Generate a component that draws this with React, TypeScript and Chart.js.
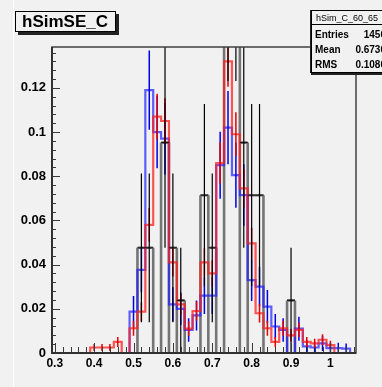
import React, { useEffect, useRef } from "react";
import { Chart, registerables } from "chart.js";

Chart.register(...registerables);

// Histogram binning: 39 bins of width 0.02 centred on these values
const binCenters = [
  0.3, 0.32, 0.34, 0.36, 0.38, 0.4, 0.42, 0.44, 0.46, 0.48,
  0.5, 0.52, 0.54, 0.56, 0.58, 0.6, 0.62, 0.64, 0.66, 0.68,
  0.7, 0.72, 0.74, 0.76, 0.78, 0.8, 0.82, 0.84, 0.86, 0.88,
  0.9, 0.92, 0.94, 0.96, 0.98, 1.0, 1.02, 1.04, 1.06,
];
const binWidth = 0.02;

// Simulation, red (normalised)
const simRed = [
  0, 0, 0, 0, 0, 0.0025, 0.0025, 0.0025, 0.005, 0,
  0.0112, 0.0187, 0.058, 0.107, 0.105, 0.041, 0.022, 0.011, 0.019, 0.041,
  0.036, 0.086, 0.132, 0.099, 0.0745, 0.0496, 0.018, 0.0112, 0.005, 0.0112,
  0.008, 0.0105, 0.005, 0.0044, 0.006, 0.0036, 0, 0, 0,
];

// Simulation, blue (normalised)
const simBlue = [
  0, 0, 0, 0, 0, 0, 0, 0, 0, 0,
  0.0187, 0.0376, 0.119, 0.1, 0.097, 0.022, 0.02, 0.0104, 0.017, 0.026,
  0.026, 0.085, 0.102, 0.0805, 0.0715, 0.033, 0.03, 0.021, 0.012, 0.0104,
  0, 0.011, 0.003, 0.0025, 0.0044, 0.0022, 0.0022, 0.002, 0,
];

// Data, raw counts per bin
const dataCounts = [
  0, 0, 0, 0, 0, 0, 0, 0, 0, 0,
  0, 2, 2, 0, 4, 2, 1, 0, 0, 3,
  2, 0, 8, 8, 4, 3, 3, 0, 0, 0,
  1, 0, 0, 0, 0, 0, 0, 0, 0,
];
const dataNorm = 42;

// Weight of one simulated entry, for the statistical error bars
const redEntryWeight = 0.001;
const blueEntryWeight = 0.0027;

const xTickValues = [0.3, 0.4, 0.5, 0.6, 0.7, 0.8, 0.9, 1.0];
const xTickLabels = ["0.3", "0.4", "0.5", "0.6", "0.7", "0.8", "0.9", "1"];
const yTickValues = [0, 0.02, 0.04, 0.06, 0.08, 0.1, 0.12];
const yTickLabels = ["0", "0.02", "0.04", "0.06", "0.08", "0.1", "0.12"];

const histTitle = "hSimSE_C";
const statsTitle = "hSim_C_60_65";
const statLabels = ["Entries", "Mean", "RMS"];
const statValues = ["1456", "0.6736", "0.1086"];

const X_MIN = 0.293;
const X_MAX = 1.065;
const Y_MAX = 0.1385;

type Pt = { x: number; y: number | null };

const lowEdge = (i: number) => binCenters[i] - binWidth / 2;
const highEdge = (i: number) => binCenters[i] + binWidth / 2;

function stepOutline(values: number[]): Pt[] {
  const pts: Pt[] = [];
  const first = values.findIndex((v) => v > 0);
  let last = -1;
  values.forEach((v, i) => {
    if (v > 0) last = i;
  });
  for (let i = first; i <= last; i++) {
    if (i === first) pts.push({ x: lowEdge(i), y: 0 });
    pts.push({ x: lowEdge(i), y: values[i] }, { x: highEdge(i), y: values[i] });
    if (i === last) pts.push({ x: highEdge(i), y: 0 });
  }
  return pts;
}

function errorBars(values: number[], errors: number[]): Pt[] {
  const pts: Pt[] = [];
  values.forEach((v, i) => {
    if (v <= 0) return;
    const c = binCenters[i];
    pts.push({ x: c, y: v - errors[i] }, { x: c, y: v + errors[i] }, { x: c, y: null });
  });
  return pts;
}

// Bar-style outline: vertical edges to the axis wherever the content changes
function barEdges(values: number[]): Pt[] {
  const pts: Pt[] = [];
  for (let k = 0; k <= values.length; k++) {
    const a = k > 0 ? values[k - 1] : 0;
    const b = k < values.length ? values[k] : 0;
    if (a === b) continue;
    const edge = k < values.length ? lowEdge(k) : highEdge(k - 1);
    pts.push({ x: edge, y: 0 }, { x: edge, y: Math.max(a, b) }, { x: edge, y: null });
  }
  values.forEach((v, i) => {
    if (v > 0) pts.push({ x: lowEdge(i), y: v }, { x: highEdge(i), y: v }, { x: highEdge(i), y: null });
  });
  return pts;
}

function binTops(values: number[]): Pt[] {
  const pts: Pt[] = [];
  values.forEach((v, i) => {
    if (v > 0) pts.push({ x: lowEdge(i), y: v }, { x: highEdge(i), y: v }, { x: highEdge(i), y: null });
  });
  return pts;
}

const frameAndTicks = {
  id: "frameAndTicks",
  afterDraw(chart: any) {
    const { ctx, chartArea } = chart;
    const xs = chart.scales.x;
    const ys = chart.scales.y;
    const { left, right, top, bottom } = chartArea;
    ctx.save();
    ctx.strokeStyle = "#3a3a3a";
    ctx.lineWidth = 1;
    // x ticks, pointing into the frame
    for (let k = 0; k <= 38; k++) {
      const v = 0.3 + k * 0.02;
      const px = Math.round(xs.getPixelForValue(v)) + 0.5;
      const major = k % 5 === 0;
      ctx.beginPath();
      ctx.moveTo(px, bottom);
      ctx.lineTo(px, bottom - (major ? 10 : 6));
      ctx.stroke();
    }
    // y ticks
    for (let k = 0; k <= 34; k++) {
      const v = k * 0.004;
      const py = Math.round(ys.getPixelForValue(v)) + 0.5;
      const major = k % 5 === 0;
      ctx.beginPath();
      ctx.moveTo(left, py);
      ctx.lineTo(left + (major ? 8 : 4), py);
      ctx.stroke();
    }
    // frame
    ctx.strokeStyle = "#404040";
    ctx.lineWidth = 1.5;
    ctx.strokeRect(left, top, right - left, bottom - top);
    ctx.lineWidth = 2;
    ctx.strokeStyle = "#303030";
    ctx.beginPath();
    ctx.moveTo(left, top);
    ctx.lineTo(left, bottom);
    ctx.lineTo(right, bottom);
    ctx.stroke();
    ctx.restore();
  },
};

function HistChart() {
  const ref = useRef<HTMLCanvasElement | null>(null);
  useEffect(() => {
    if (!ref.current) return;
    const redErr = simRed.map((v) => Math.sqrt(v * redEntryWeight));
    const blueErr = simBlue.map((v) => Math.sqrt(v * blueEntryWeight));
    const dataVals = dataCounts.map((n) => n / dataNorm);
    const dataErr = dataCounts.map((n) => Math.sqrt(n) / dataNorm);

    const line = (data: Pt[], color: string, width: number, order: number) => ({
      type: "line" as const,
      data,
      borderColor: color,
      backgroundColor: color,
      borderWidth: width,
      pointRadius: 0,
      tension: 0,
      fill: false,
      spanGaps: false,
      clip: 0,
      order,
    });

    const chart = new Chart(ref.current, {
      type: "line",
      data: {
        datasets: [
          line(errorBars(dataVals, dataErr), "#000000", 1.2, 0),
          line(binTops(dataVals), "#111111", 1, 1),
          line(errorBars(simRed, redErr), "#e80000", 1.5, 2),
          line(stepOutline(simRed), "rgba(255,30,30,0.75)", 2.2, 3),
          line(errorBars(simBlue, blueErr), "#0000e8", 1.5, 4),
          line(stepOutline(simBlue), "rgba(30,30,255,0.7)", 2.2, 5),
          line(barEdges(dataVals), "rgba(95,95,95,0.85)", 2.6, 6),
        ] as any,
      },
      options: {
        responsive: false,
        devicePixelRatio: 1,
        animation: false,
        layout: { padding: { left: 0, top: 47, right: 26, bottom: 0 } },
        plugins: { legend: { display: false }, tooltip: { enabled: false }, title: { display: false } },
        scales: {
          x: {
            type: "linear",
            min: X_MIN,
            max: X_MAX,
            grid: { display: false, drawTicks: false },
            border: { display: false },
            afterBuildTicks: (s: any) => {
              s.ticks = xTickValues.map((v) => ({ value: v }));
            },
            afterFit: (s: any) => {
              s.height = 34;
            },
            ticks: {
              padding: 3,
              autoSkip: false,
              maxRotation: 0,
              color: "#000",
              font: { family: "'Liberation Sans', Arial, sans-serif", size: 12, weight: "bold" },
              callback: (_v: any, i: number) => xTickLabels[i],
            },
          },
          y: {
            type: "linear",
            min: 0,
            max: Y_MAX,
            grid: { display: false, drawTicks: false },
            border: { display: false },
            afterBuildTicks: (s: any) => {
              s.ticks = yTickValues.map((v) => ({ value: v }));
            },
            afterFit: (s: any) => {
              s.width = 52;
            },
            ticks: {
              padding: 6,
              autoSkip: false,
              color: "#000",
              font: { family: "'Liberation Sans', Arial, sans-serif", size: 13, weight: "bold" },
              callback: (_v: any, i: number) => yTickLabels[i],
            },
          },
        },
      } as any,
      plugins: [frameAndTicks],
    });
    return () => chart.destroy();
  }, []);
  return <canvas ref={ref} width={382} height={387} style={{ display: "block", position: "absolute", left: 0, top: 0 }} />;
}

export default function App() {
  const font = "'Liberation Sans', Arial, sans-serif";
  return (
    <div
      style={{
        position: "fixed",
        left: 0,
        top: 0,
        width: 382,
        height: 387,
        overflow: "hidden",
        background: "#f1f1f1",
        fontFamily: font,
      }}
    >
      <HistChart />
      <div style={{ position: "absolute", left: 13, top: 0, width: 1, height: 387, background: "#ffffff" }} />
      {/* histogram title */}
      <div
        style={{
          position: "absolute",
          left: 15,
          top: 11,
          width: 93,
          height: 19,
          border: "1px solid #000",
          background: "#f1f1f1",
          boxShadow: "3px 3px 0 #222",
          fontWeight: "bold",
          fontSize: 17,
          lineHeight: "19px",
          paddingLeft: 6,
          boxSizing: "content-box",
          color: "#000",
          whiteSpace: "nowrap",
        }}
      >
        {histTitle}
      </div>
      {/* statistics box */}
      <div
        style={{
          position: "absolute",
          left: 311,
          top: 10,
          width: 80,
          height: 61,
          border: "1px solid #000",
          background: "#f1f1f1",
          boxShadow: "0 2px 0 #222, -1px 0 0 #222",
          color: "#000",
          fontWeight: "bold",
        }}
      >
        <div style={{ position: "absolute", left: 4, top: 2, fontSize: 9, lineHeight: "10px", whiteSpace: "nowrap", fontWeight: "normal" }}>
          {statsTitle}
        </div>
        <div style={{ position: "absolute", left: 0, top: 13, width: 80, height: 1, background: "#000" }} />
        {statLabels.map((lab, i) => (
          <div key={lab} style={{ position: "absolute", left: 0, top: 17 + i * 15, width: 74, height: 13, fontSize: 10, lineHeight: "13px" }}>
            <span style={{ position: "absolute", left: 3 }}>{lab}</span>
            <span style={{ position: "absolute", right: 0 }}>{statValues[i]}</span>
          </div>
        ))}
      </div>
    </div>
  );
}
